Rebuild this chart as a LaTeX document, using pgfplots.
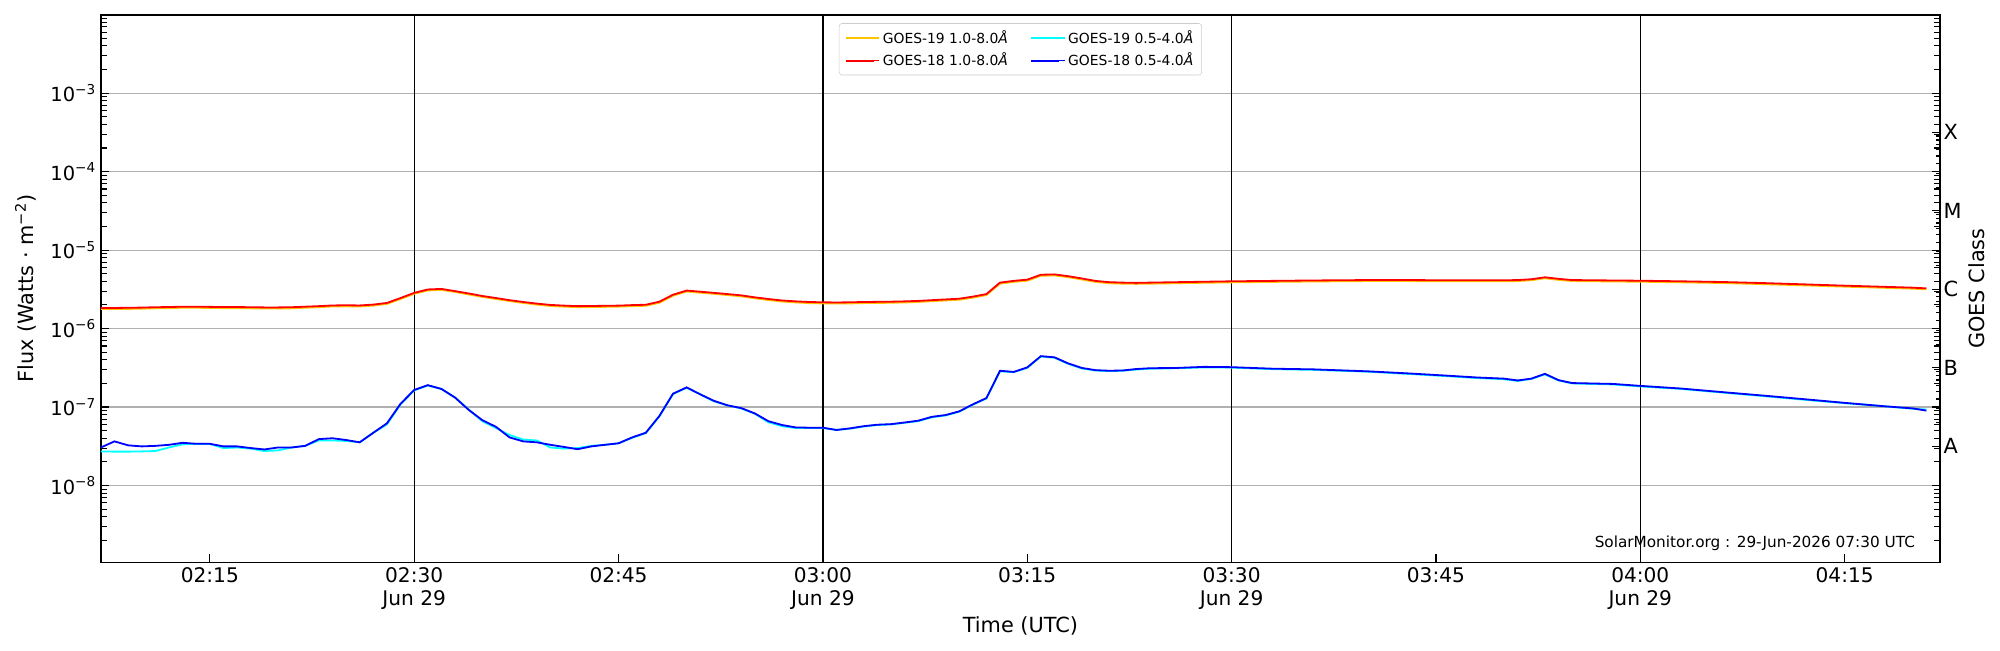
\documentclass[border=0pt]{standalone}
\usepackage{fontspec}
\setmainfont{DejaVu Sans}
\usepackage{pgfplots}
\usepackage{pgfplotstable}
\pgfplotsset{compat=1.18}

\definecolor{gyellow}{RGB}{255,196,0}
\definecolor{gcyan}{RGB}{0,255,255}
\definecolor{gred}{RGB}{255,0,0}
\definecolor{gblue}{RGB}{0,0,255}
\definecolor{ggrid}{RGB}{176,176,176}
\definecolor{glegend}{RGB}{204,204,204}

% t = minutes after 02:00 UTC, 29 Jun
\pgfplotstableread{
t   g19l    g18l    g19s    g18s
7   1.77e-6 1.83e-6 2.72e-8 3.05e-8
8   1.77e-6 1.83e-6 2.70e-8 3.65e-8
9   1.78e-6 1.84e-6 2.70e-8 3.25e-8
10  1.79e-6 1.85e-6 2.72e-8 3.15e-8
11  1.81e-6 1.87e-6 2.75e-8 3.20e-8
12  1.82e-6 1.88e-6 3.05e-8 3.30e-8
13  1.84e-6 1.90e-6 3.35e-8 3.50e-8
14  1.84e-6 1.90e-6 3.40e-8 3.40e-8
15  1.83e-6 1.89e-6 3.38e-8 3.40e-8
16  1.82e-6 1.88e-6 3.00e-8 3.15e-8
17  1.82e-6 1.88e-6 3.05e-8 3.15e-8
18  1.81e-6 1.87e-6 2.95e-8 3.00e-8
19  1.80e-6 1.86e-6 2.75e-8 2.88e-8
20  1.80e-6 1.86e-6 2.80e-8 3.05e-8
21  1.81e-6 1.87e-6 3.05e-8 3.05e-8
22  1.84e-6 1.90e-6 3.20e-8 3.20e-8
23  1.87e-6 1.93e-6 3.75e-8 3.90e-8
24  1.91e-6 1.97e-6 3.75e-8 4.00e-8
25  1.92e-6 1.98e-6 3.70e-8 3.80e-8
26  1.91e-6 1.97e-6 3.55e-8 3.55e-8
27  1.96e-6 2.02e-6 4.70e-8 4.70e-8
28  2.06e-6 2.12e-6 6.00e-8 6.20e-8
29  2.38e-6 2.45e-6 1.08e-7 1.10e-7
30  2.77e-6 2.85e-6 1.63e-7 1.65e-7
31  3.06e-6 3.15e-6 1.88e-7 1.90e-7
32  3.11e-6 3.20e-6 1.70e-7 1.70e-7
33  2.92e-6 3.00e-6 1.32e-7 1.32e-7
34  2.72e-6 2.80e-6 9.30e-8 9.20e-8
35  2.53e-6 2.60e-6 6.60e-8 6.80e-8
36  2.38e-6 2.45e-6 5.40e-8 5.60e-8
37  2.24e-6 2.30e-6 4.40e-8 4.10e-8
38  2.12e-6 2.18e-6 3.85e-8 3.65e-8
39  2.02e-6 2.08e-6 3.75e-8 3.55e-8
40  1.94e-6 2.00e-6 3.05e-8 3.30e-8
41  1.90e-6 1.96e-6 2.95e-8 3.10e-8
42  1.87e-6 1.93e-6 3.00e-8 2.90e-8
43  1.88e-6 1.94e-6 3.20e-8 3.15e-8
44  1.89e-6 1.95e-6 3.30e-8 3.30e-8
45  1.90e-6 1.96e-6 3.45e-8 3.45e-8
46  1.93e-6 1.99e-6 4.05e-8 4.10e-8
47  1.95e-6 2.01e-6 4.65e-8 4.70e-8
48  2.13e-6 2.20e-6 7.60e-8 7.70e-8
49  2.62e-6 2.70e-6 1.46e-7 1.48e-7
50  2.96e-6 3.05e-6 1.76e-7 1.78e-7
51  2.86e-6 2.95e-6 1.45e-7 1.45e-7
52  2.77e-6 2.85e-6 1.18e-7 1.20e-7
53  2.67e-6 2.75e-6 1.05e-7 1.05e-7
54  2.57e-6 2.65e-6 9.60e-8 9.70e-8
55  2.43e-6 2.50e-6 8.20e-8 8.30e-8
56  2.31e-6 2.38e-6 6.40e-8 6.60e-8
57  2.21e-6 2.28e-6 5.70e-8 5.90e-8
58  2.15e-6 2.22e-6 5.40e-8 5.50e-8
59  2.11e-6 2.18e-6 5.40e-8 5.45e-8
60  2.09e-6 2.16e-6 5.40e-8 5.45e-8
61  2.08e-6 2.15e-6 5.10e-8 5.10e-8
62  2.09e-6 2.16e-6 5.30e-8 5.35e-8
63  2.11e-6 2.18e-6 5.65e-8 5.70e-8
64  2.12e-6 2.19e-6 5.90e-8 5.95e-8
65  2.13e-6 2.20e-6 6.00e-8 6.05e-8
66  2.15e-6 2.22e-6 6.30e-8 6.35e-8
67  2.18e-6 2.25e-6 6.60e-8 6.70e-8
68  2.23e-6 2.30e-6 7.40e-8 7.50e-8
69  2.28e-6 2.35e-6 7.80e-8 7.90e-8
70  2.33e-6 2.40e-6 8.70e-8 8.80e-8
71  2.47e-6 2.55e-6 1.07e-7 1.08e-7
72  2.67e-6 2.75e-6 1.28e-7 1.30e-7
73  3.73e-6 3.85e-6 2.85e-7 2.90e-7
74  3.93e-6 4.05e-6 2.78e-7 2.80e-7
75  4.07e-6 4.20e-6 3.15e-7 3.20e-7
76  4.70e-6 4.85e-6 4.40e-7 4.45e-7
77  4.75e-6 4.90e-6 4.25e-7 4.30e-7
78  4.51e-6 4.65e-6 3.55e-7 3.60e-7
79  4.22e-6 4.35e-6 3.10e-7 3.15e-7
80  3.93e-6 4.05e-6 2.92e-7 2.95e-7
81  3.78e-6 3.90e-6 2.87e-7 2.90e-7
82  3.73e-6 3.85e-6 2.90e-7 2.92e-7
83  3.71e-6 3.82e-6 3.00e-7 3.05e-7
84  3.73e-6 3.85e-6 3.08e-7 3.12e-7
86  3.78e-6 3.90e-6 3.12e-7 3.15e-7
88  3.83e-6 3.95e-6 3.20e-7 3.25e-7
90  3.88e-6 4.00e-6 3.18e-7 3.22e-7
93  3.93e-6 4.05e-6 3.04e-7 3.08e-7
96  3.98e-6 4.10e-6 2.98e-7 3.02e-7
100 4.03e-6 4.15e-6 2.82e-7 2.85e-7
103 4.03e-6 4.15e-6 2.64e-7 2.68e-7
106 4.00e-6 4.12e-6 2.46e-7 2.50e-7
108 4.00e-6 4.12e-6 2.34e-7 2.38e-7
110 4.00e-6 4.12e-6 2.26e-7 2.30e-7
111 4.03e-6 4.15e-6 2.15e-7 2.18e-7
112 4.13e-6 4.25e-6 2.28e-7 2.30e-7
113 4.37e-6 4.50e-6 2.60e-7 2.65e-7
114 4.17e-6 4.30e-6 2.18e-7 2.20e-7
115 4.03e-6 4.15e-6 2.00e-7 2.02e-7
118 3.98e-6 4.10e-6 1.94e-7 1.97e-7
120 3.95e-6 4.07e-6 1.83e-7 1.86e-7
123 3.88e-6 4.00e-6 1.70e-7 1.72e-7
126 3.80e-6 3.92e-6 1.53e-7 1.55e-7
129 3.68e-6 3.80e-6 1.38e-7 1.40e-7
132 3.55e-6 3.66e-6 1.24e-7 1.26e-7
135 3.42e-6 3.52e-6 1.12e-7 1.13e-7
138 3.30e-6 3.40e-6 1.02e-7 1.02e-7
140 3.22e-6 3.32e-6 9.50e-8 9.60e-8
141 3.16e-6 3.25e-6 9.30e-8 9.00e-8
}\goes

\begin{document}
\begin{tikzpicture}
\begin{axis}[
  name=main,
  at={(0,0)}, anchor=south west,
  width=1324pt, height=394pt, scale only axis,
  xmin=7, xmax=142,
  ymode=log, ymin=1.05e-9, ymax=9.9e-3,
  axis line style={line width=1pt},
  tick style={black, line width=0.8pt},
  tick align=inside,
  xtick pos=left, ytick pos=both,
  major tick length=5.8pt, minor tick length=4.3pt,
  xtick={15,30,45,60,75,90,105,120,135},
  xticklabels={02:15,{02:30\\Jun 29},02:45,{03:00\\Jun 29},03:15,{03:30\\Jun 29},03:45,{04:00\\Jun 29},04:15},
  xticklabel style={align=center, font=\fontsize{14.5}{17}\selectfont},
  ytick={1e-8,1e-7,1e-6,1e-5,1e-4,1e-3},
  yticklabels={10\textsuperscript{−8},10\textsuperscript{−7},10\textsuperscript{−6},10\textsuperscript{−5},10\textsuperscript{−4},10\textsuperscript{−3}},
  yticklabel style={font=\fontsize{14}{16}\selectfont},
  minor ytick={2e-9,3e-9,4e-9,5e-9,6e-9,7e-9,8e-9,9e-9,
               2e-8,3e-8,4e-8,5e-8,6e-8,7e-8,8e-8,9e-8,
               2e-7,3e-7,4e-7,5e-7,6e-7,7e-7,8e-7,9e-7,
               2e-6,3e-6,4e-6,5e-6,6e-6,7e-6,8e-6,9e-6,
               2e-5,3e-5,4e-5,5e-5,6e-5,7e-5,8e-5,9e-5,
               2e-4,3e-4,4e-4,5e-4,6e-4,7e-4,8e-4,9e-4,
               2e-3,3e-3,4e-3,5e-3,6e-3,7e-3,8e-3,9e-3},
  ymajorgrids,
  major grid style={ggrid, line width=0.8pt},
  extra x ticks={30,60,90,120},
  extra x tick labels={,,,},
  extra x tick style={grid=major, major grid style={black, line width=0.9pt}, major tick length=0pt},
  xlabel={Time (UTC)},
  xlabel style={font=\fontsize{15}{18}\selectfont, at={(axis description cs:0.5,-0.117)}, anchor=center},
  ylabel={Flux (Watts · m\textsuperscript{−2})},
  ylabel style={font=\fontsize{15}{18}\selectfont, at={(axis description cs:-0.041,0.5)}, anchor=center},
  legend columns=2,
  legend style={at={(0.5,0.985)}, anchor=north, font=\fontsize{10}{12}\selectfont,
    draw=glegend, rounded corners=2pt, fill=white,
    inner xsep=4pt, inner ysep=3pt, row sep=1.5pt,
    /tikz/every even column/.append style={column sep=14pt}},
  legend cell align=left,
  legend image code/.code={\draw[#1, line width=1.5pt] (0pt,0pt) -- (20pt,0pt); \path (0pt,0pt) -- (24pt,0pt);},
  clip=false,
]
\addplot[color=gyellow, line width=1.3pt] table[x=t, y=g19l] {\goes};
\addlegendentry{GOES-19 1.0-8.0\textit{Å}}
\addplot[color=gcyan, line width=1.3pt] table[x=t, y=g19s] {\goes};
\addlegendentry{GOES-19 0.5-4.0\textit{Å}}
\addplot[color=gred, line width=1.3pt] table[x=t, y=g18l] {\goes};
\addlegendentry{GOES-18 1.0-8.0\textit{Å}}
\addplot[color=gblue, line width=1.3pt] table[x=t, y=g18s] {\goes};
\addlegendentry{GOES-18 0.5-4.0\textit{Å}}
\node[anchor=east, font=\fontsize{11}{13}\selectfont, inner sep=0pt] at (rel axis cs:0.9865,0.035) {SolarMonitor.org : 29-Jun-2026 07:30 UTC};
\node[rotate=90, anchor=center, font=\fontsize{15}{18}\selectfont, inner sep=0pt] at (rel axis cs:1.0201,0.5) {GOES Class};
\end{axis}
\begin{axis}[
  at={(0,0)}, anchor=south west,
  width=1324pt, height=394pt, scale only axis,
  xmin=7, xmax=142,
  ymode=log, ymin=1.05e-9, ymax=9.9e-3,
  axis x line=none,
  axis y line*=right,
  axis line style={line width=1pt},
  tick style={black, line width=0.8pt},
  tick align=inside,
  major tick length=5.8pt,
  ytick={3.1623e-8,3.1623e-7,3.1623e-6,3.1623e-5,3.1623e-4},
  yticklabels={A,B,C,M,X},
  minor ytick={},
  yticklabel style={font=\fontsize{15}{17}\selectfont, xshift=-1pt},
]
\end{axis}
\pgfresetboundingbox
\path[use as bounding box] ([shift={(-72.6pt,-63.4pt)}]main.south west) rectangle ([shift={(43.2pt,10.8pt)}]main.north east);
\end{tikzpicture}
\end{document}
